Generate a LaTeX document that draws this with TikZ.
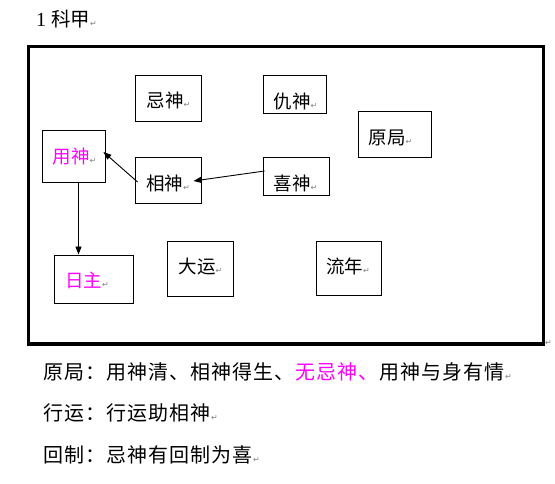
\documentclass[tikz,border=0pt]{standalone}
\usepackage{fontspec}
\setmainfont{Liberation Serif}
\newfontfamily\cjk{Noto Sans CJK SC}
\newfontfamily\symf{DejaVu Sans}
\usetikzlibrary{arrows.meta,fit,calc}
\definecolor{mag}{RGB}{255,0,255}
\newcommand\ret{{\symf\fontsize{8}{8}\selectfont\color{gray}↵}}
\makeatletter
\newcommand\spcd[1]{\@tfor\spcx:=#1\do{\spcx\kern1pt}}
\makeatother
\tikzset{
  box/.style={draw, line width=0.9pt, inner sep=0pt},
  btxt/.style={inner sep=0pt, font=\cjk\fontsize{18.5}{18.5}\selectfont},
  lineT/.style={anchor=west, inner sep=0pt, font=\cjk\fontsize{20}{20}\selectfont},
  arr/.style={line width=0.9pt, -{Triangle[length=8pt,width=6pt]}},
}
\newcommand\bx[8]{%
  \node[box, fit={(#2,#3) (#4,#5)}] (#1) {};
  \node[btxt] (#1-t) at (#6,#7) {#8\ret};}
\begin{document}
\begin{tikzpicture}[x=1pt,y=-1pt]
\useasboundingbox (0,0) rectangle (555,484);
% title
\node[anchor=west, inner sep=0pt, font=\fontsize{20}{20}\selectfont] (title) at (36,19) {1 {\cjk\fontsize{19.5}{19.5}\selectfont 科甲}\ret};
% frame
\draw[line width=3.5pt] (28.5,46.5) rectangle (543.5,344);
\node[anchor=west, inner sep=0pt] (frret) at (545,343) {\ret};
% boxes
\bx{ji}{135}{75}{201}{121}{168.5}{100.5}{忌神}
\bx{chou}{263}{75}{326}{113}{295.5}{101}{仇神}
\bx{yuan}{358}{111}{431}{157}{390.5}{137.5}{原局}
\bx{yong}{42}{130}{105}{182}{74.5}{156.5}{\color{mag}用神}
\bx{xiang}{135}{157}{201}{203}{168}{183.5}{相神}
\bx{xi}{263}{157}{329}{195}{295.5}{183}{喜神}
\bx{ri}{54}{255}{133}{303}{87}{280}{\color{mag}日主}
\bx{dy}{167}{241}{233}{296}{200.5}{266.5}{大运}
\bx{ln}{316}{241}{381}{295}{348}{266}{流年}
% arrows
\draw[arr] ($(xiang.west)+(3,2)$) -- ($(yong.east)+(-2,-4)$);
\draw[arr] ($(xi.west)+(2,-5)$) -- ($(xiang.east)+(-8,1)$);
\coordinate (ys) at ($(yong.south)+(5,0)$);
\draw[arr] (ys) -- (ys |- ri.north);
% bottom text
\node[lineT] (l1) at (43,372) {\spcd{原局：用神清、相神得生、}{\color{mag}\spcd{无忌神、}}\spcd{用神与身有情}\ret};
\node[lineT] (l2) at (43,413) {\spcd{行运：行运助相神}\ret};
\node[lineT] (l3) at (43,455) {\spcd{回制：忌神有回制为喜}\ret};
\end{tikzpicture}
\end{document}
